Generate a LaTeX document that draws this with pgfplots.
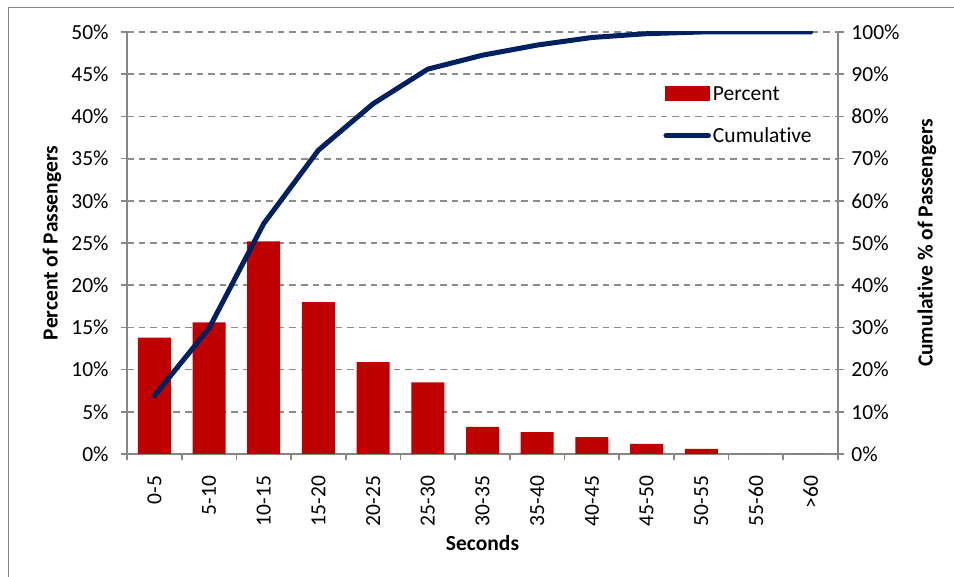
\documentclass[border=0pt]{standalone}
\usepackage{fontspec}
\setmainfont{Carlito}[Ligatures=NoCommon, RawFeature={-calt;-dlig}]
\usepackage{pgfplots}
\pgfplotsset{compat=1.18}
\definecolor{barred}{RGB}{192,0,0}
\definecolor{navy}{RGB}{0,32,96}
\definecolor{axgray}{RGB}{134,134,134}
\definecolor{gridgray}{RGB}{140,140,140}
\begin{document}
\begin{tikzpicture}
\useasboundingbox (0,0) rectangle (477bp,288.5bp);
\draw[axgray, line width=0.6bp] (4.15bp,-20bp) -- (4.15bp,284.85bp) -- (520bp,284.85bp);
\pgfplotsset{
  every axis/.append style={font=\fontsize{10.8}{13}\selectfont},
  /pgf/number format/assume math mode=true,
}
\begin{axis}[
  at={(63.5bp,61.5bp)}, anchor=south west,
  scale only axis, width=355.5bp, height=211bp,
  xmin=-0.5, xmax=12.5, ymin=0, ymax=50,
  axis x line*=bottom, axis y line*=left,
  axis line style={axgray, line width=0.85bp},
  tick style={axgray, line width=0.85bp},
  tick align=outside, major tick length=3.2bp,
  xtick={-0.5,0.5,...,12.5}, xticklabels={},
  extra x ticks={0,1,2,3,4,5,6,7,8,9,10,11,12},
  extra x tick labels={0-5,5-10,10-15,15-20,20-25,25-30,30-35,35-40,40-45,45-50,50-55,55-60,>60},
  extra x tick style={major tick length=0pt, xticklabel style={rotate=90, anchor=east}, xticklabel shift=7.5bp},
  ytick={0,5,...,50},
  yticklabels={0\%,5\%,10\%,15\%,20\%,25\%,30\%,35\%,40\%,45\%,50\%},
  yticklabel shift=2.5bp,
  ymajorgrids,
  major grid style={gridgray, line width=0.9bp, dash pattern=on 3.3bp off 2.5bp},
  ylabel={\bfseries Percent of Passengers},
  ylabel style={at={(axis description cs:-0.1055,0.5)}, anchor=center},
  xlabel={\bfseries Seconds},
  xlabel style={at={(axis description cs:0.5,-0.2107)}, anchor=center},
]
\addplot[ybar, bar width=16.5bp, fill=barred, draw=none, bar shift=0pt] coordinates {
(0,13.8) (1,15.6) (2,25.2) (3,18.0) (4,10.9) (5,8.5) (6,3.2) (7,2.6) (8,2.0) (9,1.2) (10,0.6) (11,0) (12,0)};
\end{axis}
\begin{axis}[
  at={(63.5bp,61.5bp)}, anchor=south west,
  scale only axis, width=355.5bp, height=211bp,
  xmin=-0.5, xmax=12.5, ymin=0, ymax=100,
  axis x line=none, axis y line*=right,
  axis line style={axgray, line width=0.85bp},
  tick style={axgray, line width=0.85bp},
  tick align=outside, major tick length=3.2bp,
  ytick={0,10,...,100},
  yticklabels={0\%,10\%,20\%,30\%,40\%,50\%,60\%,70\%,80\%,90\%,100\%},
  ylabel={\bfseries Cumulative \% of Passengers},
  ylabel style={at={(axis description cs:1.125,0.5)}, anchor=center},
  legend cell align=left,
  legend style={at={(axis description cs:0.754,0.879)}, anchor=north west, draw=none, fill=none,
    inner sep=0pt, row sep=9bp, column sep=0pt,
    nodes={inner sep=1bp, text height=7.5bp, text depth=2.5bp}},
]
\addlegendimage{legend image code/.code={\fill[barred] (1bp,-2.5bp) rectangle (23bp,4.5bp);}}
\addlegendentry{Percent}
\addplot[navy, line width=2.5bp, line join=round, line cap=round,
  legend image code/.code={\draw[navy, line width=2.5bp, line cap=round] (1.25bp,0.9bp) -- (22.5bp,0.9bp);}]
  coordinates {(0,13.8) (1,29.8) (2,54.6) (3,72.0) (4,83.0) (5,91.2) (6,94.5) (7,96.9) (8,98.7) (9,99.6) (10,100) (11,100) (12,100)};
\addlegendentry{Cumulative}
\end{axis}
\end{tikzpicture}
\end{document}
